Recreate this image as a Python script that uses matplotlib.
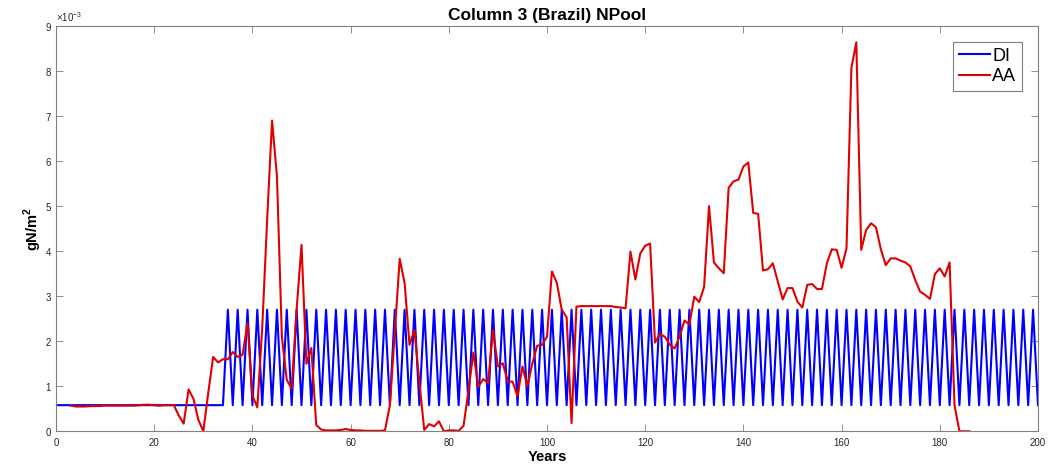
import matplotlib
matplotlib.use('Agg')
import matplotlib.pyplot as plt
import numpy as np
from matplotlib.ticker import ScalarFormatter

plt.rcParams['font.family'] = ['Liberation Sans', 'DejaVu Sans']
plt.rcParams['mathtext.fontset'] = 'custom'
plt.rcParams['mathtext.rm'] = 'Liberation Sans'
plt.rcParams['mathtext.bf'] = 'Liberation Sans:bold'

# DI: yearly N pool, 1e-3 gN/m^2 (years 0..200)
di_years = list(range(0, 201))
di_values = [
    0.58, 0.58, 0.58, 0.58, 0.58, 0.58, 0.58, 0.58, 0.58, 0.58,
    0.58, 0.58, 0.58, 0.58, 0.58, 0.58, 0.58, 0.58, 0.58, 0.58,
    0.58, 0.58, 0.58, 0.58, 0.58, 0.58, 0.58, 0.58, 0.58, 0.58,
    0.58, 0.58, 0.58, 0.58, 0.58, 2.7, 0.58, 2.7, 0.58, 2.7,
    0.58, 2.7, 0.58, 2.7, 0.58, 2.7, 0.58, 2.7, 0.58, 2.7,
    0.58, 2.7, 0.58, 2.7, 0.58, 2.7, 0.58, 2.7, 0.58, 2.7,
    0.58, 2.7, 0.58, 2.7, 0.58, 2.7, 0.58, 2.7, 0.58, 2.7,
    0.58, 2.7, 0.58, 2.7, 0.58, 2.7, 0.58, 2.7, 0.58, 2.7,
    0.58, 2.7, 0.58, 2.7, 0.58, 2.7, 0.58, 2.7, 0.58, 2.7,
    0.58, 2.7, 0.58, 2.7, 0.58, 2.7, 0.58, 2.7, 0.58, 2.7,
    0.58, 2.7, 0.58, 2.7, 0.58, 2.7, 0.58, 2.7, 0.58, 2.7,
    0.58, 2.7, 0.58, 2.7, 0.58, 2.7, 0.58, 2.7, 0.58, 2.7,
    0.58, 2.7, 0.58, 2.7, 0.58, 2.7, 0.58, 2.7, 0.58, 2.7,
    0.58, 2.7, 0.58, 2.7, 0.58, 2.7, 0.58, 2.7, 0.58, 2.7,
    0.58, 2.7, 0.58, 2.7, 0.58, 2.7, 0.58, 2.7, 0.58, 2.7,
    0.58, 2.7, 0.58, 2.7, 0.58, 2.7, 0.58, 2.7, 0.58, 2.7,
    0.58, 2.7, 0.58, 2.7, 0.58, 2.7, 0.58, 2.7, 0.58, 2.7,
    0.58, 2.7, 0.58, 2.7, 0.58, 2.7, 0.58, 2.7, 0.58, 2.7,
    0.58, 2.7, 0.58, 2.7, 0.58, 2.7, 0.58, 2.7, 0.58, 2.7,
    0.58, 2.7, 0.58, 2.7, 0.58, 2.7, 0.58, 2.7, 0.58, 2.7,
    0.58,
]

# AA: yearly N pool, 1e-3 gN/m^2 (years 3..186)
aa_years = list(range(3, 187))
aa_values = [
    0.57, 0.55, 0.55, 0.55, 0.56, 0.56, 0.56,              # 3-9
    0.57, 0.57, 0.57, 0.57, 0.57, 0.57, 0.57, 0.58, 0.59, 0.59,  # 10-19
    0.58, 0.57, 0.58, 0.58, 0.58, 0.35, 0.17, 0.93, 0.72, 0.25,  # 20-29
    0.0, 0.85, 1.65, 1.53, 1.6, 1.6, 1.76, 1.65, 1.7, 2.4,      # 30-39
    0.8, 0.53, 2.3, 4.7, 6.9, 5.66, 2.1, 1.14, 0.95, 2.7,       # 40-49
    4.14, 1.5, 1.85, 0.14, 0.04, 0.02, 0.02, 0.02, 0.03, 0.05,  # 50-59
    0.03, 0.02, 0.02, 0.01, 0.01, 0.01, 0.01, 0.02, 0.58, 2.2,  # 60-69
    3.83, 3.29, 1.92, 2.25, 1.1, 0.03, 0.16, 0.11, 0.22, 0.0,   # 70-79
    0.02, 0.02, 0.01, 0.12, 0.9, 1.75, 0.99, 1.16, 1.07, 2.25,  # 80-89
    1.44, 1.51, 1.11, 1.1, 0.78, 1.44, 1.0, 1.5, 1.9, 1.92,     # 90-99
    2.1, 3.55, 3.3, 2.7, 2.53, 0.18, 2.77, 2.78, 2.78, 2.78,    # 100-109
    2.78, 2.78, 2.78, 2.78, 2.76, 2.75, 2.73, 3.99, 3.37, 3.95, # 110-119
    4.12, 4.17, 1.97, 2.16, 2.1, 1.92, 1.84, 2.1, 2.46, 2.37,   # 120-129
    2.99, 2.87, 3.21, 5.0, 3.75, 3.62, 3.51, 5.41, 5.55, 5.59,  # 130-139
    5.88, 5.97, 4.85, 4.83, 3.57, 3.6, 3.73, 3.33, 2.93, 3.18,  # 140-149
    3.18, 2.88, 2.75, 3.25, 3.27, 3.16, 3.16, 3.73, 4.04, 4.03, # 150-159
    3.63, 4.06, 8.07, 8.64, 4.03, 4.47, 4.62, 4.53, 4.04, 3.69, # 160-169
    3.84, 3.84, 3.79, 3.75, 3.66, 3.36, 3.1, 3.03, 2.94, 3.49,  # 170-179
    3.62, 3.44, 3.75, 0.58, 0.0, 0.0, 0.0,                      # 180-186
]

fig = plt.figure(figsize=(10.61, 4.65), dpi=100)
ax = fig.add_axes([0.0528, 0.0725, 0.9255, 0.8715])

ax.plot(di_years, np.array(di_values) * 1e-3, color='#0000ff', lw=1.5, label='DI')
ax.plot(aa_years, np.array(aa_values) * 1e-3, color='#e00000', lw=1.5, label='AA')

ax.set_xlim(0, 200)
ax.set_ylim(0, 9e-3)
ax.set_xticks(np.arange(0, 201, 20))
ax.set_yticks(np.arange(0, 9.5e-3, 1e-3))

fmt = ScalarFormatter(useMathText=True)
fmt.set_powerlimits((-2, 2))
ax.yaxis.set_major_formatter(fmt)
ax.yaxis.get_offset_text().set_fontsize(7)
ax.yaxis.get_offset_text().set_color('#262626')

ax.tick_params(direction='in', top=True, right=True, length=5, width=0.6,
               color='#808080', labelsize=7, labelcolor='#262626')
ax.tick_params(axis='x', pad=5)
ax.tick_params(axis='y', pad=3)
for sp in ax.spines.values():
    sp.set_color('#808080')
    sp.set_linewidth(0.8)

ax.set_title('Column 3 (Brazil) NPool', fontsize=12.5, fontweight='bold', pad=4.5)
ax.set_xlabel('Years', fontsize=10.5, fontweight='bold', labelpad=1.5)
ax.set_ylabel(r'gN/m$^\mathbf{2}$', fontsize=10.5, fontweight='bold', labelpad=0.5)

leg = ax.legend(loc='upper right', fontsize=13, fancybox=False, framealpha=1,
                handlelength=1.7, handletextpad=0.15, borderpad=0.3,
                labelspacing=0.2, borderaxespad=0.9)
leg.get_frame().set_edgecolor('#808080')
leg.get_frame().set_linewidth(0.8)

fig.savefig('out.png', dpi=100)
